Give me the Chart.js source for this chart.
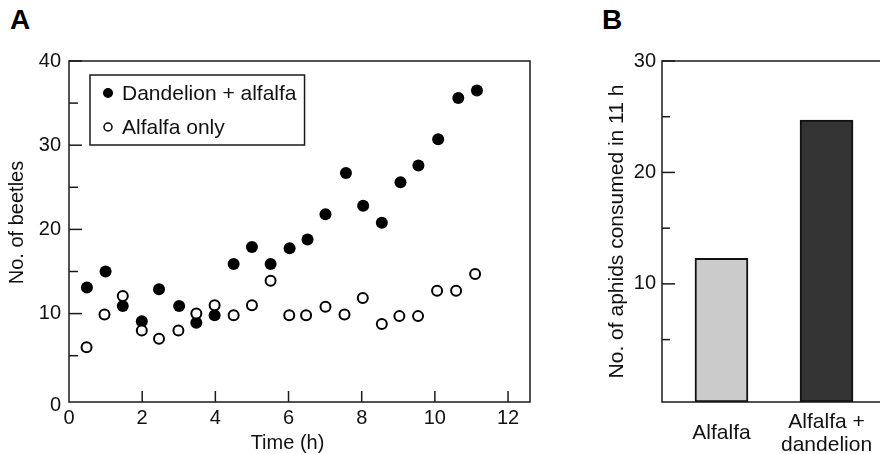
<!DOCTYPE html>
<html>
<head>
<meta charset="utf-8">
<script src="https://cdn.jsdelivr.net/npm/chart.js@4/dist/chart.umd.min.js"></script>
<style>
  html, body { margin: 0; padding: 0; background: #fff; width: 880px; height: 454px; overflow: hidden; }
  .panel { position: absolute; top: 0; height: 454px; }
  #wrapA { left: 0; width: 560px; }
  #wrapB { left: 580px; width: 320px; }
  .tag { position: absolute; top: 6px; font: bold 28px 'Liberation Sans', Arial, Helvetica, sans-serif; line-height: 28px; color: #000; }
</style>
</head>
<body>
<div class="tag" style="left:10px">A</div>
<div class="tag" style="left:602px">B</div>
<div id="wrapA" class="panel"><canvas id="chartA"></canvas></div>
<div id="wrapB" class="panel"><canvas id="chartB"></canvas></div>
<script>
// ---- Panel A: beetles counted over time ----
const seriesNames = ['Dandelion + alfalfa', 'Alfalfa only'];
const timeDandelion = [0.49, 1.0, 1.47, 1.99, 2.46, 3.01, 3.48, 3.98, 4.5, 5.0, 5.51, 6.03, 6.52, 7.01, 7.57, 8.04, 8.55, 9.06, 9.55, 10.09, 10.64, 11.15];
const beetlesDandelion = [13.1, 15.0, 10.9, 9.1, 12.9, 10.9, 8.9, 9.8, 15.9, 17.9, 15.9, 17.75, 18.8, 21.8, 26.7, 22.8, 20.8, 25.6, 27.6, 30.7, 35.6, 36.5];
const timeAlfalfa = [0.48, 0.97, 1.47, 1.99, 2.46, 2.99, 3.48, 3.98, 4.5, 5.0, 5.51, 6.02, 6.48, 7.01, 7.53, 8.03, 8.55, 9.03, 9.54, 10.06, 10.58, 11.1];
const beetlesAlfalfa = [6.0, 9.9, 12.1, 8.0, 7.0, 8.0, 10.0, 11.0, 9.8, 11.0, 13.9, 9.8, 9.8, 10.8, 9.9, 11.85, 8.76, 9.7, 9.7, 12.7, 12.7, 14.7];
const axisTitlesA = { x: 'Time (h)', y: 'No. of beetles' };

// ---- Panel B: aphids eaten per diet ----
const dietCategories = ['Alfalfa', ['Alfalfa +', 'dandelion']];
const aphidsConsumed = [12.3, 24.7];
const axisTitleB = 'No. of aphids consumed in 11 h';

const FONT = "'Liberation Sans', Arial, Helvetica, sans-serif";
Chart.defaults.font.family = FONT;
Chart.defaults.color = '#111';

// Box around the plotting area plus inward-pointing tick marks
const frameAndTicks = {
  id: 'frameAndTicks',
  afterDatasetsDraw(chart, args, opts) {
    const { ctx, chartArea: a } = chart;
    ctx.save();
    ctx.strokeStyle = '#1a1a1a';
    ctx.lineWidth = 1.5;
    ctx.strokeRect(a.left, a.top, a.right - a.left, a.bottom - a.top);
    for (const [id, spec] of Object.entries(opts.scales || {})) {
      const scale = chart.scales[id];
      const first = Math.ceil(scale.min / spec.step) * spec.step;
      for (let v = first; v <= scale.max + 1e-9; v += spec.step) {
        if (Math.abs(v) < 1e-9) continue; // this one lies on the opposite axis line
        const r = v / spec.major;
        const isMajor = Math.abs(r - Math.round(r)) < 1e-6;
        const len = isMajor ? spec.majorLen : spec.minorLen;
        const p = scale.getPixelForValue(v);
        ctx.beginPath();
        if (scale.isHorizontal()) {
          ctx.moveTo(p, a.bottom);
          ctx.lineTo(p, a.bottom - len);
        } else {
          ctx.moveTo(a.left, p);
          ctx.lineTo(a.left + len, p);
        }
        ctx.stroke();
      }
    }
    ctx.restore();
  }
};

// Axis titles placed relative to the plotting area
const axisTitles = {
  id: 'axisTitles',
  afterDraw(chart, args, opts) {
    const { ctx, chartArea: a } = chart;
    ctx.save();
    ctx.fillStyle = '#111';
    ctx.textAlign = 'center';
    ctx.textBaseline = 'middle';
    (opts.items || []).forEach(it => {
      ctx.font = `${it.size}px ${FONT}`;
      if (it.axis === 'x') {
        ctx.fillText(it.text, (a.left + a.right) / 2 + it.shift, a.bottom + it.gap);
      } else {
        ctx.save();
        ctx.translate(a.left - it.gap, (a.top + a.bottom) / 2 + it.shift);
        ctx.rotate(-Math.PI / 2);
        ctx.fillText(it.text, 0, 0);
        ctx.restore();
      }
    });
    ctx.restore();
  }
};

// Legend drawn inside the plot, in a framed box
const boxedLegend = {
  id: 'boxedLegend',
  afterDraw(chart, args, opts) {
    if (!opts.display) return;
    const { ctx, chartArea: a } = chart;
    const items = chart.data.datasets;
    ctx.save();
    ctx.font = `${opts.fontSize}px ${FONT}`;
    const maxText = Math.max(...items.map(d => ctx.measureText(d.label).width));
    const x0 = a.left + opts.offsetX;
    const y0 = a.top + opts.offsetY;
    const w = opts.textIndent + maxText + opts.padRight;
    const h = opts.rowHeight * items.length + opts.padY * 2;
    ctx.fillStyle = '#fff';
    ctx.fillRect(x0, y0, w, h);
    ctx.strokeStyle = '#1a1a1a';
    ctx.lineWidth = 1.5;
    ctx.strokeRect(x0, y0, w, h);
    items.forEach((d, i) => {
      const cy = y0 + opts.padY + opts.rowHeight * (i + 0.5);
      const cx = x0 + opts.markerX;
      ctx.beginPath();
      ctx.arc(cx, cy, d.pointBorderWidth ? opts.markerRadius - 1 : opts.markerRadius, 0, Math.PI * 2);
      ctx.fillStyle = d.pointBackgroundColor;
      ctx.fill();
      if (d.pointBorderWidth) {
        ctx.lineWidth = 1.5;
        ctx.strokeStyle = d.pointBorderColor;
        ctx.stroke();
      }
      ctx.fillStyle = '#111';
      ctx.textBaseline = 'middle';
      ctx.textAlign = 'left';
      ctx.fillText(d.label, x0 + opts.textIndent, cy + 1);
    });
    ctx.restore();
  }
};

// ---------- Chart A ----------
new Chart(document.getElementById('chartA'), {
  type: 'scatter',
  data: {
    datasets: [
      {
        label: seriesNames[0],
        data: timeDandelion.map((t, i) => ({ x: t, y: beetlesDandelion[i] })),
        pointRadius: 6,
        pointBackgroundColor: '#000',
        pointBorderColor: '#000',
        pointBorderWidth: 0,
        order: 1
      },
      {
        label: seriesNames[1],
        data: timeAlfalfa.map((t, i) => ({ x: t, y: beetlesAlfalfa[i] })),
        pointRadius: 5,
        pointBackgroundColor: '#fff',
        pointBorderColor: '#000',
        pointBorderWidth: 2,
        order: 0
      }
    ]
  },
  options: {
    responsive: true,
    maintainAspectRatio: false,
    animation: false,
    devicePixelRatio: 1,
    layout: { padding: { left: 0, top: 61, right: 30, bottom: 0 } },
    plugins: {
      legend: { display: false },
      tooltip: { enabled: false },
      frameAndTicks: {
        scales: {
          y: { step: 5, major: 10, majorLen: 13, minorLen: 9 },
          x: { step: 2, major: 2, majorLen: 11, minorLen: 11 }
        }
      },
      axisTitles: {
        items: [
          { axis: 'x', text: axisTitlesA.x, size: 20, gap: 41, shift: -12 },
          { axis: 'y', text: axisTitlesA.y, size: 20, gap: 51.5, shift: -9 }
        ]
      },
      boxedLegend: {
        display: true, fontSize: 21, offsetX: 21, offsetY: 14,
        textIndent: 32, padRight: 8, rowHeight: 34, padY: 1,
        markerX: 18, markerRadius: 5
      }
    },
    scales: {
      x: {
        type: 'linear',
        min: 0,
        max: 12.6,
        grid: { display: false, drawTicks: false },
        border: { display: false },
        ticks: {
          stepSize: 2, includeBounds: false, autoSkip: false, maxRotation: 0,
          padding: 4, font: { size: 20 }, color: '#111'
        },
        afterFit(s) { s.height = 52; }
      },
      y: {
        min: -0.5,
        max: 40,
        grid: { display: false, drawTicks: false },
        border: { display: false },
        ticks: {
          stepSize: 5, includeBounds: false, autoSkip: false, padding: 8, color: '#111',
          font: (c) => ({ size: 20, lineHeight: (c.tick && c.tick.value === 0) ? 0.8 : 1.2 }),
          callback: (v) => (v % 10 === 0 ? (v === 0 ? ['', '0'] : String(v)) : '')
        },
        afterFit(s) { s.width = 69; }
      }
    }
  },
  plugins: [frameAndTicks, axisTitles, boxedLegend]
});

// ---------- Chart B ----------
const yMinB = -0.6;
new Chart(document.getElementById('chartB'), {
  type: 'bar',
  data: {
    datasets: [{
      data: aphidsConsumed.map((v, i) => ({ x: i, y: v })),
      backgroundColor: ['#cbcbcb', '#333333'],
      borderColor: '#111',
      borderWidth: 2,
      borderSkipped: false,
      barThickness: 53,
      base: yMinB
    }]
  },
  options: {
    responsive: true,
    maintainAspectRatio: false,
    animation: false,
    devicePixelRatio: 1,
    layout: { padding: { left: 0, top: 61, right: 14, bottom: 0 } },
    plugins: {
      legend: { display: false },
      tooltip: { enabled: false },
      frameAndTicks: {
        scales: { y: { step: 5, major: 10, majorLen: 13, minorLen: 8 } }
      },
      axisTitles: {
        items: [
          { axis: 'y', text: axisTitleB, size: 21, gap: 45, shift: 0 }
        ]
      },
      boxedLegend: { display: false }
    },
    scales: {
      x: {
        type: 'linear',
        min: -0.566,
        max: 1.566,
        offset: false,
        grid: { display: false, offset: false, drawTicks: false },
        border: { display: false },
        ticks: {
          stepSize: 1, includeBounds: false, autoSkip: false, maxRotation: 0,
          padding: 20, crossAlign: 'center', color: '#111',
          font: { size: 21, lineHeight: 1.1 },
          callback: (v) => (dietCategories[v] !== undefined ? dietCategories[v] : '')
        },
        afterFit(s) { s.height = 52; }
      },
      y: {
        min: yMinB,
        max: 30,
        grid: { display: false, drawTicks: false },
        border: { display: false },
        ticks: {
          stepSize: 5, includeBounds: false, autoSkip: false, padding: 6, color: '#111',
          font: { size: 20 },
          callback: (v) => (v % 10 === 0 && v > 0 ? String(v) : '')
        },
        afterFit(s) { s.width = 82; }
      }
    }
  },
  plugins: [frameAndTicks, axisTitles, boxedLegend]
});
</script>
</body>
</html>
